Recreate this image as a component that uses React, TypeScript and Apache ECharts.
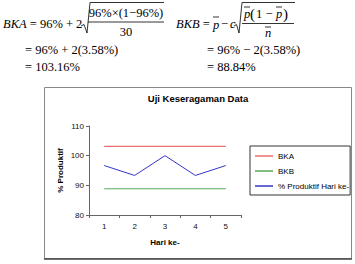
import React, { useEffect, useRef } from "react";
import * as echarts from "echarts";

const days = ["1", "2", "3", "4", "5"];
const bka = [103.16, 103.16, 103.16, 103.16, 103.16];
const bkb = [88.84, 88.84, 88.84, 88.84, 88.84];
const produktif = [96.67, 93.33, 100, 93.33, 96.67];
const seriesNames = ["BKA", "BKB", "% Produktif Hari ke-"];
const yMin = 80;
const yMax = 110;
const yStep = 10;

const SANS = "'Liberation Sans', Arial, sans-serif";
const SERIF = "'Liberation Serif', 'Times New Roman', serif";

const rich = {
  i: { fontFamily: SERIF, fontStyle: "italic", fontSize: 12.5, color: "#000" },
  r: { fontFamily: SERIF, fontSize: 12.5, color: "#000" },
  b: { fontFamily: SERIF, fontSize: 15, color: "#000" },
};

function t(x: number, y: number, text: string, align = "left") {
  return {
    type: "text",
    x,
    y,
    style: {
      text,
      font: "12.5px " + SERIF,
      fill: "#000",
      verticalAlign: "middle",
      align,
      rich,
    },
  };
}
function ln(x1: number, y1: number, x2: number, y2: number, w = 0.8) {
  return {
    type: "line",
    shape: { x1, y1, x2, y2 },
    style: { stroke: "#000", lineWidth: w },
  };
}

export default function App() {
  const ref = useRef<HTMLDivElement>(null);
  useEffect(() => {
    if (!ref.current) return;
    const chart = echarts.init(ref.current, null, { renderer: "svg" });
    chart.setOption({
      animation: false,
      backgroundColor: "#fff",
      textStyle: { fontFamily: SANS },
      grid: { left: 89, top: 126, width: 152, height: 89, containLabel: false },
      xAxis: {
        type: "category",
        data: days,
        boundaryGap: true,
        name: "Hari ke-",
        nameLocation: "middle",
        nameGap: 23,
        nameTextStyle: { fontFamily: SANS, fontSize: 8, fontWeight: "bold", color: "#000" },
        axisLine: { lineStyle: { color: "#666", width: 1 } },
        axisTick: { show: true, length: 3, interval: 0, lineStyle: { color: "#666" } },
        axisLabel: { fontFamily: SANS, fontSize: 8, color: "#111", margin: 7 },
        splitLine: { show: false },
      },
      yAxis: {
        type: "value",
        min: yMin,
        max: yMax,
        interval: yStep,
        name: "% Produktif",
        nameLocation: "middle",
        nameGap: 25,
        nameTextStyle: { fontFamily: SANS, fontSize: 8, fontWeight: "bold", color: "#000" },
        axisLine: { show: true, lineStyle: { color: "#666", width: 1 } },
        axisTick: { show: true, length: 3, lineStyle: { color: "#666" } },
        axisLabel: { fontFamily: SANS, fontSize: 8, color: "#111", margin: 5 },
        splitLine: { show: false },
      },
      legend: {
        orient: "vertical",
        left: 250,
        top: 146,
        padding: [5, 1, 4, 5],
        itemGap: 5,
        itemWidth: 18,
        itemHeight: 1.5,
        icon: "rect",
        borderColor: "#333",
        borderWidth: 1,
        borderRadius: 0,
        backgroundColor: "#fff",
        data: seriesNames,
        textStyle: { fontFamily: SANS, fontSize: 8, color: "#000", lineHeight: 10 },
      },
      series: [
        { name: seriesNames[0], type: "line", data: bka, symbol: "none", color: "#e8716f", lineStyle: { width: 1.2 } },
        { name: seriesNames[1], type: "line", data: bkb, symbol: "none", color: "#5aaa5a", lineStyle: { width: 1.2 } },
        { name: seriesNames[2], type: "line", data: produktif, symbol: "none", color: "#3535c8", lineStyle: { width: 1 } },
      ],
      graphic: [
        {
          type: "rect",
          z: -1,
          shape: { x: 44.5, y: 87.5, width: 307, height: 171 },
          style: { fill: "none", stroke: "#888", lineWidth: 1 },
        },
        {
          type: "line",
          shape: { x1: 44, y1: 259, x2: 352, y2: 259 },
          style: { stroke: "#444", lineWidth: 1.5 },
        },
        {
          type: "text",
          x: 198,
          y: 98.5,
          style: {
            text: "Uji Keseragaman Data",
            font: "bold 9.5px " + SANS,
            fill: "#000",
            align: "center",
            verticalAlign: "middle",
          },
        },
        // BKA formula
        t(3, 24, "{i|BKA}{r| = 96% + 2}"),
        {
          type: "polyline",
          shape: { points: [[81, 26], [84, 24.5], [87, 33], [90, 2.5], [164, 2.5]] },
          style: { stroke: "#000", lineWidth: 0.8, fill: "none" },
        },
        t(126, 13, "{r|96%×(1−96%)}", "center"),
        ln(88, 22, 164, 22),
        t(126, 32, "{r|30}", "center"),
        // BKB formula
        t(176, 24, "{i|BKB}{r| = }"),
        t(213, 25, "{i|p}"),
        ln(213, 17, 219, 17),
        t(221, 24, "{r|−}"),
        t(230, 24, "{i|c}"),
        {
          type: "polyline",
          shape: { points: [[234, 26], [236.5, 24.5], [239, 33], [242, 2.5], [295, 2.5]] },
          style: { stroke: "#000", lineWidth: 0.8, fill: "none" },
        },
        t(244, 14, "{i|p}"),
        ln(244, 7, 250, 7),
        t(250, 13.5, "{b|(}"),
        t(256, 14, "{r|1 −}"),
        t(276, 14, "{i|p}"),
        ln(276, 7, 282, 7),
        t(283, 13.5, "{b|)}"),
        ln(242, 23.5, 294, 23.5),
        t(268, 33, "{i|n}", "center"),
        ln(265, 27, 271, 27),
        // results
        t(25, 50, "{r|= 96% + 2(3.58%)}"),
        t(25, 67, "{r|= 103.16%}"),
        t(207, 50, "{r|= 96% − 2(3.58%)}"),
        t(207, 67, "{r|= 88.84%}"),
      ],
    });
    return () => chart.dispose();
  }, []);
  return (
    <div
      ref={ref}
      style={{ position: "fixed", left: 0, top: 0, width: 355, height: 264, background: "#fff" }}
    />
  );
}
